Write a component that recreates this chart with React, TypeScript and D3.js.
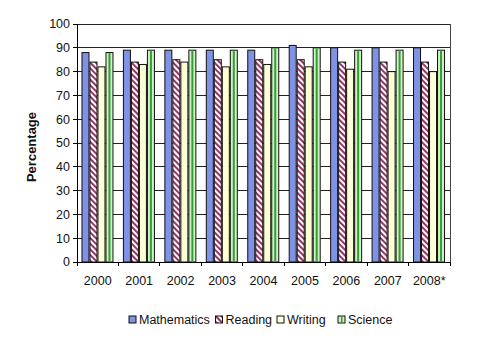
import React from "react";
import * as d3 from "d3";

const years = ["2000", "2001", "2002", "2003", "2004", "2005", "2006", "2007", "2008*"];
const seriesNames = ["Mathematics", "Reading", "Writing", "Science"];
const mathematics = [88, 89, 89, 89, 89, 91, 90, 90, 90];
const reading = [84, 84, 85, 85, 85, 85, 84, 84, 84];
const writing = [82, 83, 84, 82, 83, 82, 81, 80, 80];
const science = [88, 89, 89, 89, 90, 90, 89, 89, 89];
const yTicks = [0, 10, 20, 30, 40, 50, 60, 70, 80, 90, 100];

const seriesValues = [mathematics, reading, writing, science];
const fills = ["#7f92e3", "url(#readPat)", "#ffffd6", "#ccf5c4"];

const W = 480;
const H = 361;
const left = 77;
const right = 450;
const top = 24;
const bottom = 262;
const font = "Liberation Sans, Arial, sans-serif";

export default function App() {
  const x0 = d3.scaleBand<string>().domain(years).range([left, right]).padding(0);
  const step = x0.step();
  const x1 = d3
    .scaleBand<string>()
    .domain(seriesNames)
    .range([step * 0.12, step * 0.12 + 31])
    .paddingInner(0.125)
    .paddingOuter(0);
  const y = d3.scaleLinear().domain([0, 100]).range([bottom, top]);
  const bw = x1.bandwidth();

  const legendX = [129, 215.5, 277, 338];

  return (
    <svg
      width={W}
      height={H}
      style={{ position: "absolute", left: 0, top: 0, background: "#fff" }}
    >
      <defs>
        <pattern
          id="readPat"
          width={4}
          height={4}
          patternUnits="userSpaceOnUse"
          patternTransform="rotate(-45)"
        >
          <rect width={4} height={4} fill="#fff" />
          <rect width={2} height={4} fill="#993366" />
        </pattern>
      </defs>
      {/* gridlines */}
      {yTicks.map((t) => (
        <line
          key={"g" + t}
          x1={left}
          x2={right}
          y1={y(t)}
          y2={y(t)}
          stroke="#222"
          strokeWidth={1}
          shapeRendering="crispEdges"
        />
      ))}
      <line x1={right} x2={right} y1={top} y2={bottom} stroke="#444" shapeRendering="crispEdges" />
      {/* bars */}
      {years.map((yr, i) => (
        <g key={yr} transform={`translate(${x0(yr)},0)`}>
          {seriesNames.map((s, j) => {
            const v = seriesValues[j][i];
            const bx = x1(s)!;
            return (
              <g key={s}>
                <rect
                  x={bx}
                  y={y(v)}
                  width={bw}
                  height={y(0) - y(v)}
                  fill={fills[j]}
                  stroke="#111"
                  strokeWidth={1}
                />
                {j === 3 && (
                  <rect
                    x={bx + bw / 2 - 1}
                    y={y(v) + 0.5}
                    width={2}
                    height={y(0) - y(v) - 1}
                    fill="#3a9a3a"
                  />
                )}
              </g>
            );
          })}
        </g>
      ))}
      {/* y axis */}
      <line x1={left} x2={left} y1={top} y2={bottom} stroke="#000" shapeRendering="crispEdges" />
      {yTicks.map((t) => (
        <g key={"yt" + t}>
          <line x1={left - 4} x2={left} y1={y(t)} y2={y(t)} stroke="#000" shapeRendering="crispEdges" />
          <text
            x={left - 7}
            y={y(t)}
            dy="0.35em"
            textAnchor="end"
            fontFamily={font}
            fontSize={12.5}
            fill="#111"
          >
            {t}
          </text>
        </g>
      ))}
      {/* x axis */}
      <line x1={left} x2={right} y1={bottom} y2={bottom} stroke="#000" shapeRendering="crispEdges" />
      {d3.range(years.length + 1).map((k) => (
        <line
          key={"xt" + k}
          x1={left + k * step}
          x2={left + k * step}
          y1={bottom}
          y2={bottom + 4}
          stroke="#000"
          shapeRendering="crispEdges"
        />
      ))}
      {years.map((yr) => (
        <text
          key={"xl" + yr}
          x={x0(yr)! + step / 2}
          y={281}
          dy="0.35em"
          textAnchor="middle"
          fontFamily={font}
          fontSize={12.5}
          fill="#111"
        >
          {yr}
        </text>
      ))}
      {/* y label */}
      <text
        transform={`translate(36,147) rotate(-90)`}
        textAnchor="middle"
        fontFamily={font}
        fontSize={13}
        fontWeight="bold"
        fill="#111"
      >
        Percentage
      </text>
      {/* legend */}
      {seriesNames.map((s, j) => (
        <g key={"lg" + s}>
          <rect
            x={legendX[j]}
            y={316}
            width={7}
            height={7}
            fill={fills[j]}
            stroke="#111"
          />
          {j === 3 && <rect x={legendX[j] + 3} y={316.5} width={1.5} height={6} fill="#3a9a3a" />}
          <text
            x={legendX[j] + 10}
            y={319.5}
            dy="0.35em"
            fontFamily={font}
            fontSize={12.5}
            fill="#111"
          >
            {s}
          </text>
        </g>
      ))}
    </svg>
  );
}
